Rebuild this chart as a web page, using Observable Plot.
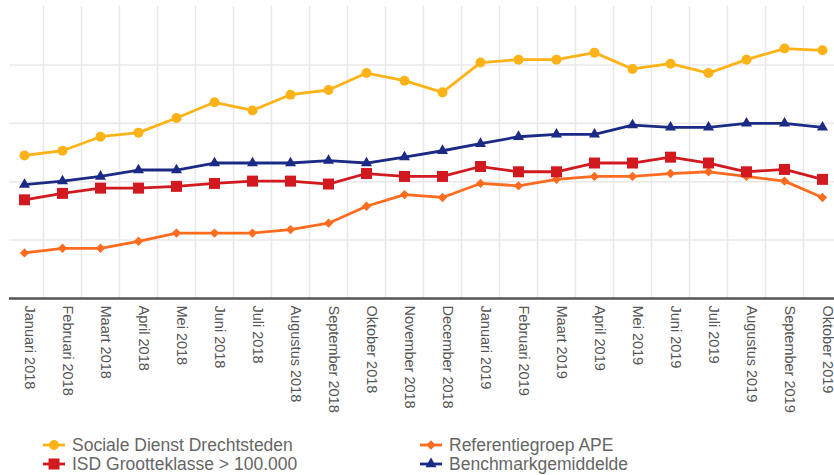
<!DOCTYPE html>
<html><head><meta charset="utf-8">
<script src="https://cdn.jsdelivr.net/npm/d3@7"></script>
<script src="https://cdn.jsdelivr.net/npm/@observablehq/plot@0.6"></script>
<style>
body{margin:0;background:#fff;font-family:"Liberation Sans",Arial,sans-serif;}
#wrap{position:relative;width:834px;height:475px;overflow:hidden;}
.leg{position:absolute;height:20px;line-height:20px;font-size:17.5px;color:#666;white-space:nowrap;}
.ico{position:absolute;}
</style></head><body><div id="wrap"></div>
<script>
const months = ["Januari 2018","Februari 2018","Maart 2018","April 2018","Mei 2018","Juni 2018","Juli 2018","Augustus 2018","September 2018","Oktober 2018","November 2018","December 2018","Januari 2019","Februari 2019","Maart 2019","April 2019","Mei 2019","Juni 2019","Juli 2019","Augustus 2019","September 2019","Oktober 2019"];
const seriesNames = ["Sociale Dienst Drechtsteden","ISD Grootteklasse > 100.000","Referentiegroep APE","Benchmarkgemiddelde"];
const sdd   = [24.5,25.3,27.7,28.4,30.9,33.6,32.2,34.9,35.7,38.6,37.3,35.3,40.4,40.9,40.9,42.1,39.3,40.2,38.6,40.9,42.8,42.5];
const isd   = [16.9,18.0,18.9,18.9,19.2,19.7,20.1,20.1,19.6,21.4,20.9,20.9,22.6,21.7,21.7,23.2,23.2,24.2,23.2,21.7,22.1,20.4];
const ape   = [7.8,8.6,8.6,9.8,11.2,11.2,11.2,11.8,12.9,15.8,17.8,17.3,19.7,19.3,20.4,20.9,20.9,21.4,21.7,20.9,20.1,17.3];
const bench = [19.5,20.1,20.9,22.0,22.0,23.2,23.2,23.2,23.6,23.2,24.2,25.3,26.5,27.7,28.1,28.1,29.7,29.3,29.3,30.0,30.0,29.3];
const yGrid = [10,20,30,40];
const colors = ["#FDB317","#D2191F","#FF6B1F","#1B2A84"];
const symbols = ["circle","square","diamond2","triangle"];
const radii = [5,6.2,4.2,4.1];

const seriesValues = [sdd, isd, ape, bench];
const rows = [];
seriesNames.forEach((s,i)=>seriesValues[i].forEach((v,j)=>rows.push({series:s, month:months[j], value:v})));
const drawOrder = [2,1,3,0];

const marks = [
  Plot.ruleX(months, {x: d=>d, dx: 19, stroke: "#e8e8e8", strokeWidth: 1.5}),
  Plot.ruleY(yGrid, {stroke: "#e8e8e8", strokeWidth: 1.5}),
  Plot.ruleY([0], {stroke: "#555", strokeWidth: 2.5}),
];
for (const i of drawOrder) {
  const data = rows.filter(r=>r.series===seriesNames[i]);
  marks.push(Plot.line(data, {x:"month", y:"value", stroke: colors[i], strokeWidth: 2.8}));
  marks.push(Plot.dot(data, {x:"month", y:"value", fill: colors[i], symbol: symbols[i], r: radii[i], stroke: "none"}));
}
marks.push(Plot.text(months, {x: d=>d, frameAnchor: "bottom", rotate: 90, textAnchor: "start", dy: 7, fontSize: 14.5, fill: "#555", fontFamily: "Liberation Sans, Arial, sans-serif"}));

const chart = Plot.plot({
  width: 834, height: 430,
  marginTop: 6, marginBottom: 132, marginLeft: 9, marginRight: 0,
  x: {type: "point", domain: months, range: [23.3, 822.7], padding: 0, axis: null},
  y: {domain: [0, 50], axis: null},
  style: {background: "transparent", overflow: "visible"},
  marks
});
const wrap = document.getElementById("wrap");
wrap.appendChild(chart);

// legend
const legPos = [
  {icon: 42, text: 72, y: 445},
  {icon: 42, text: 72, y: 464},
  {icon: 419, text: 449, y: 445},
  {icon: 419, text: 449, y: 464},
];
const symMap = {circle: d3.symbolCircle, square: d3.symbolSquare, diamond2: d3.symbolDiamond2, triangle: d3.symbolTriangle};
seriesNames.forEach((name,i)=>{
  const p = legPos[i];
  const svg = d3.create("svg").attr("width", 24).attr("height", 16).attr("class","ico")
    .style("left", p.icon + "px").style("top", (p.y - 8) + "px");
  svg.append("line").attr("x1",1).attr("x2",23).attr("y1",8).attr("y2",8).attr("stroke",colors[i]).attr("stroke-width",2.8);
  svg.append("path").attr("transform","translate(12,8)").attr("d", d3.symbol(symMap[symbols[i]], radii[i]*radii[i]*Math.PI)()).attr("fill", colors[i]);
  wrap.appendChild(svg.node());
  const t = document.createElement("div");
  t.className = "leg"; t.textContent = name;
  t.style.left = p.text + "px"; t.style.top = (p.y - 10) + "px";
  wrap.appendChild(t);
});
</script></body></html>
